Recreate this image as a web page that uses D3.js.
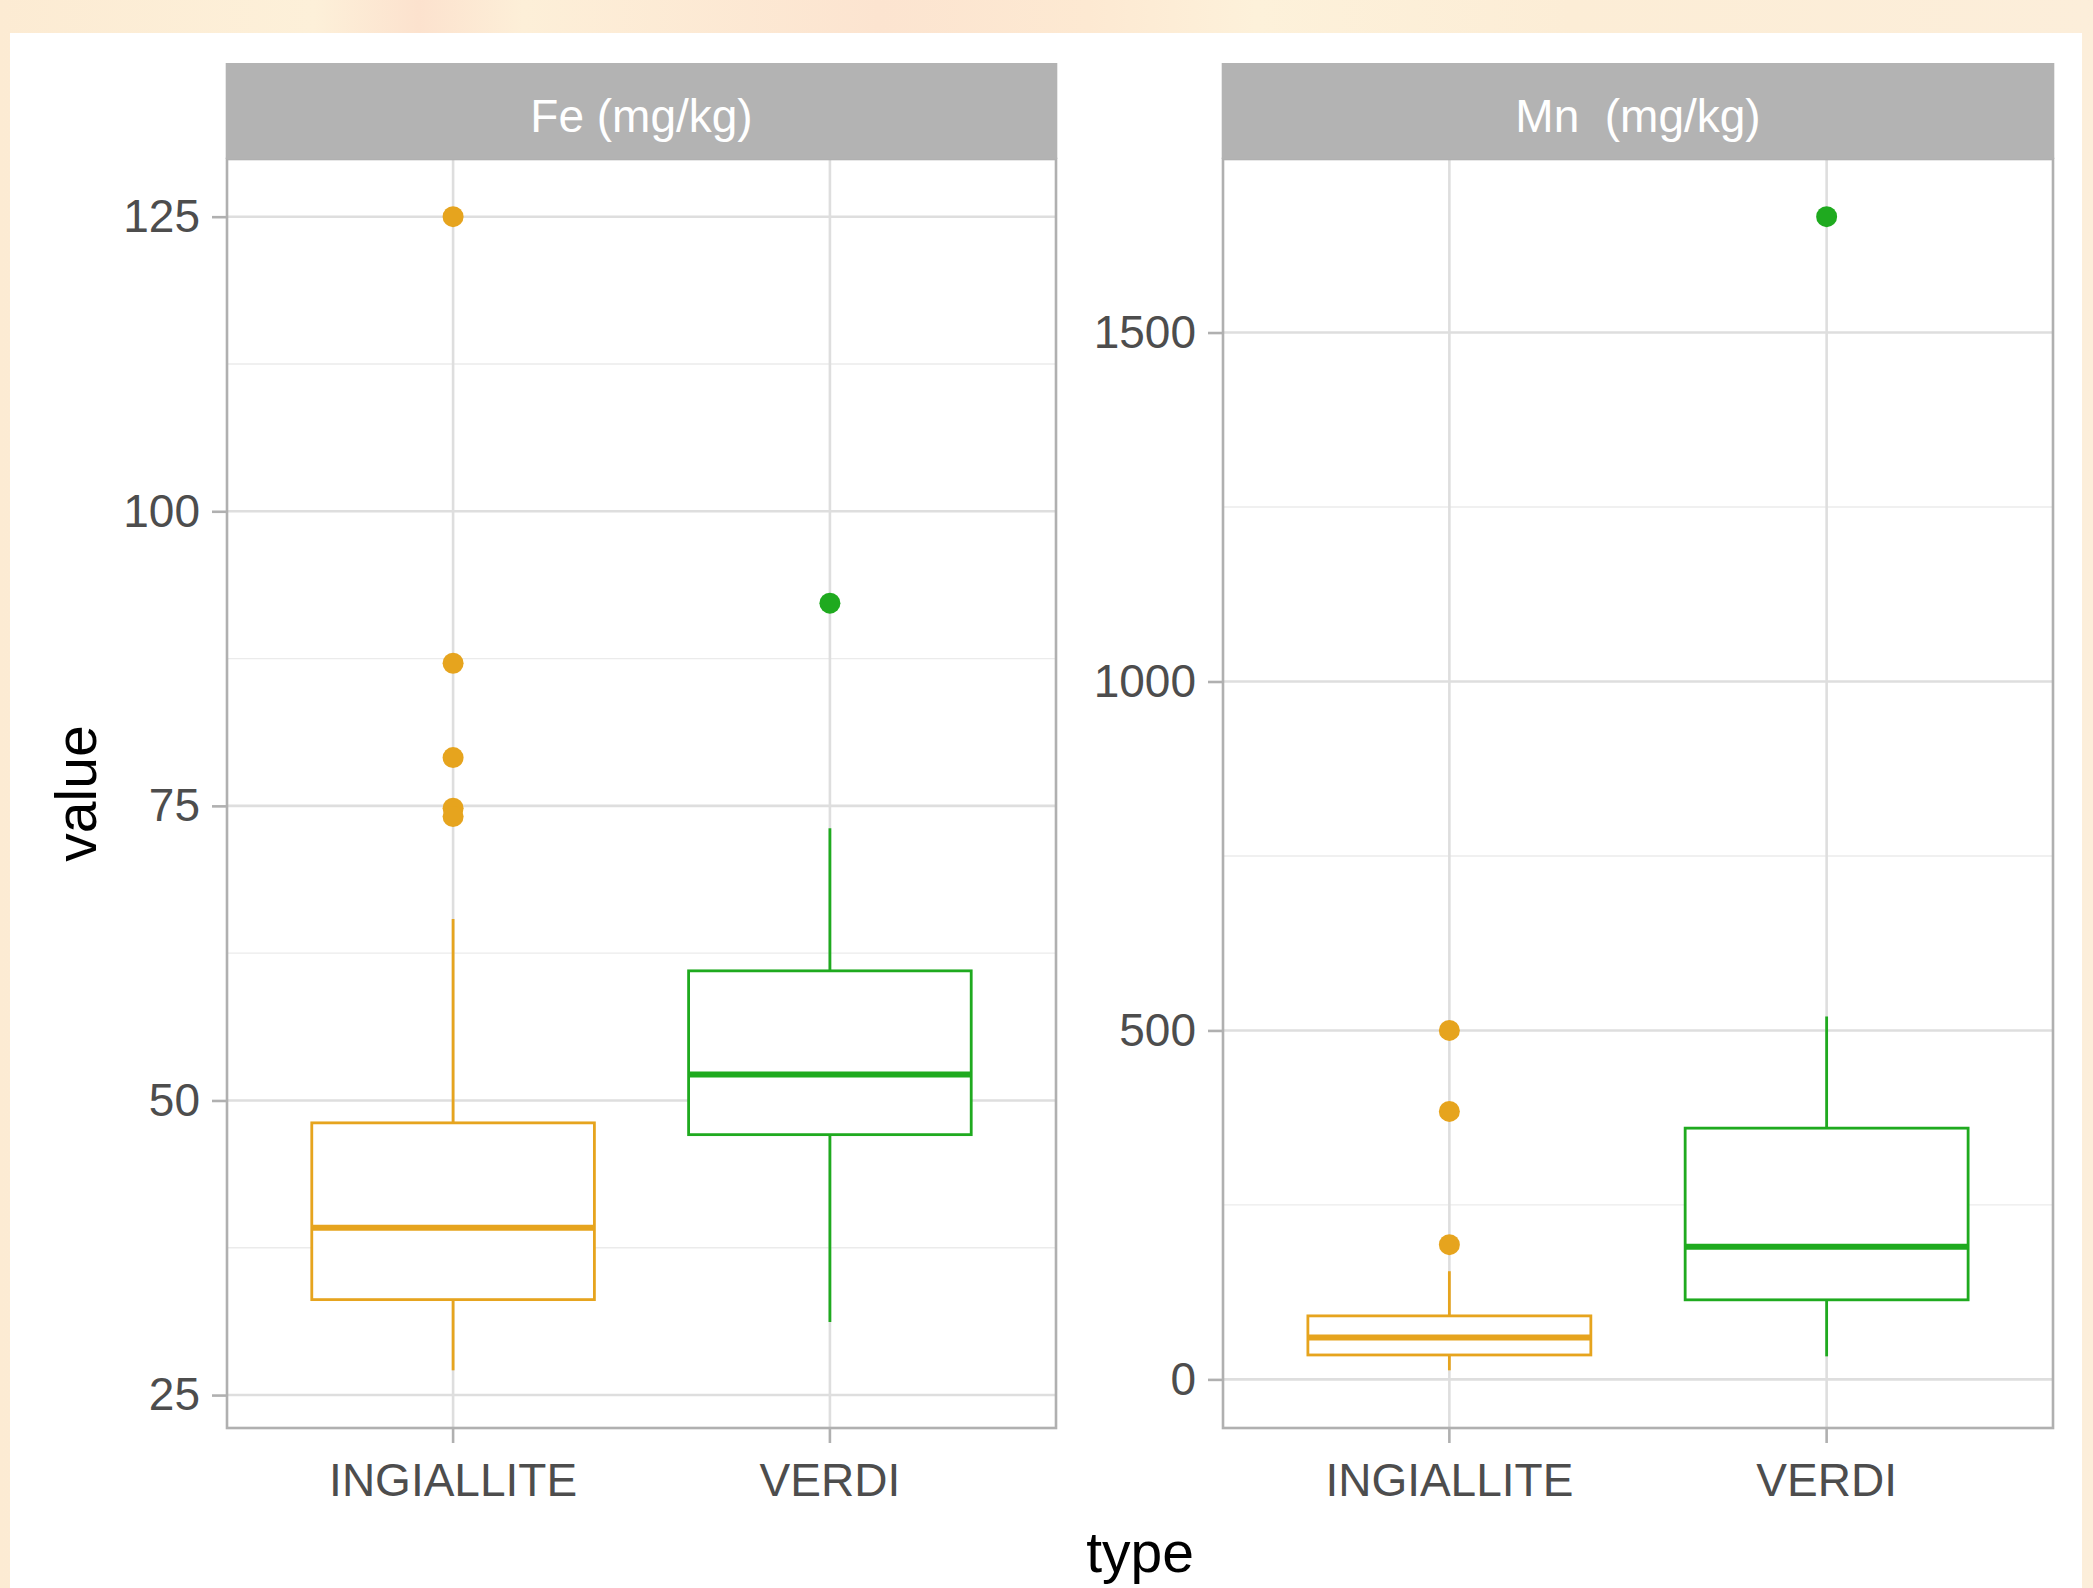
<!DOCTYPE html>
<html>
<head>
<meta charset="utf-8">
<script src="https://cdn.jsdelivr.net/npm/d3@7"></script>
<style>
  body { margin: 0; padding: 0; }
  svg { display: block; }
  text { font-family: "Liberation Sans", Arial, sans-serif; }
</style>
</head>
<body>
<div id="chart"></div>
<script>
// data
var types = ["INGIALLITE", "VERDI"];
var facets = ["Fe (mg/kg)", "Mn  (mg/kg)"];

// [lower whisker, Q1, median, Q3, upper whisker] per type
var feStats = [[27.1, 33.1, 39.2, 48.1, 65.4], [31.2, 47.1, 52.2, 61.0, 73.1]];
var feOutliers = [[125, 87.1, 79.1, 74.8, 74.1], [92.2]];
var mnStats = [[13, 35, 60, 91, 155], [33, 114, 190, 360, 520]];
var mnOutliers = [[500, 384, 193], [1666]];

var feTicks = [25, 50, 75, 100, 125];
var feMinor = [37.5, 62.5, 87.5, 112.5];
var mnTicks = [0, 500, 1000, 1500];
var mnMinor = [250, 750, 1250];

var colors = ["#E6A41E", "#1FAA1F"];

var W = 2093, H = 1588;

var svg = d3.select("#chart")
  .append("svg")
    .attr("width", W)
    .attr("height", H);

// the textured paper behind the plot, roughly
var defs = svg.append("defs");
var grad = defs.append("linearGradient").attr("id", "paper");
[["0%", "#FCEBD3"], ["15%", "#FDF0D9"], ["20%", "#FCE2CE"], ["25%", "#FDEFD8"],
 ["42%", "#FCE4D0"], ["52%", "#FDE9D2"], ["60%", "#FDF1DA"], ["75%", "#FCEDD6"],
 ["100%", "#FCEEDA"]].forEach(function(s) {
  grad.append("stop").attr("offset", s[0]).attr("stop-color", s[1]);
});
svg.append("rect").attr("width", W).attr("height", H).attr("fill", "url(#paper)");
svg.append("rect")
  .attr("x", 10).attr("y", 33)
  .attr("width", 2072).attr("height", H - 33)
  .attr("fill", "white");

var plotTop = 159, plotBottom = 1428, stripTop = 63;

var panels = [
  { name: facets[0], x0: 227, x1: 1056, stats: feStats, outliers: feOutliers, ticks: feTicks, minor: feMinor },
  { name: facets[1], x0: 1223, x1: 2053, stats: mnStats, outliers: mnOutliers, ticks: mnTicks, minor: mnMinor }
];

panels.forEach(function(p) {
  // ggplot style expansion of 5%
  var all = [];
  p.stats.forEach(function(s) { all = all.concat(s); });
  p.outliers.forEach(function(o) { all = all.concat(o); });
  var ext = d3.extent(all);
  var pad = (ext[1] - ext[0]) * 0.05;
  var y = d3.scaleLinear().domain([ext[0] - pad, ext[1] + pad]).range([plotBottom, plotTop]);

  // discrete x with 0.6 expansion each side
  var x = d3.scaleLinear().domain([0.4, 2.6]).range([p.x0, p.x1]);
  var unit = x(2) - x(1);

  var g = svg.append("g");

  // minor grid
  g.selectAll(".minor")
    .data(p.minor)
    .enter()
    .append("line")
      .attr("x1", p.x0).attr("x2", p.x1)
      .attr("y1", function(d) { return y(d); })
      .attr("y2", function(d) { return y(d); })
      .attr("stroke", "#EBEBEB")
      .attr("stroke-width", 1.4);

  // major grid
  g.selectAll(".major")
    .data(p.ticks)
    .enter()
    .append("line")
      .attr("x1", p.x0).attr("x2", p.x1)
      .attr("y1", function(d) { return y(d); })
      .attr("y2", function(d) { return y(d); })
      .attr("stroke", "#DEDEDE")
      .attr("stroke-width", 2.6);

  g.selectAll(".vgrid")
    .data(types)
    .enter()
    .append("line")
      .attr("x1", function(d, i) { return x(i + 1); })
      .attr("x2", function(d, i) { return x(i + 1); })
      .attr("y1", plotTop).attr("y2", plotBottom)
      .attr("stroke", "#DEDEDE")
      .attr("stroke-width", 2.6);

  // boxes
  types.forEach(function(t, i) {
    var s = p.stats[i];
    var cx = x(i + 1);
    var bw = unit * 0.75;
    var col = colors[i];
    g.append("line")
      .attr("x1", cx).attr("x2", cx)
      .attr("y1", y(s[3])).attr("y2", y(s[4]))
      .attr("stroke", col).attr("stroke-width", 2.8);
    g.append("line")
      .attr("x1", cx).attr("x2", cx)
      .attr("y1", y(s[1])).attr("y2", y(s[0]))
      .attr("stroke", col).attr("stroke-width", 2.8);
    g.append("rect")
      .attr("x", cx - bw / 2).attr("width", bw)
      .attr("y", y(s[3])).attr("height", y(s[1]) - y(s[3]))
      .attr("fill", "white")
      .attr("stroke", col).attr("stroke-width", 2.8);
    g.append("line")
      .attr("x1", cx - bw / 2).attr("x2", cx + bw / 2)
      .attr("y1", y(s[2])).attr("y2", y(s[2]))
      .attr("stroke", col).attr("stroke-width", 6);
    g.selectAll(".out" + i)
      .data(p.outliers[i])
      .enter()
      .append("circle")
        .attr("cx", cx)
        .attr("cy", function(d) { return y(d); })
        .attr("r", 10.5)
        .attr("fill", col);
  });

  // border
  g.append("rect")
    .attr("x", p.x0).attr("y", plotTop)
    .attr("width", p.x1 - p.x0).attr("height", plotBottom - plotTop)
    .attr("fill", "none")
    .attr("stroke", "#B0B0B0")
    .attr("stroke-width", 2.6);

  // strip
  g.append("rect")
    .attr("x", p.x0 - 1.3).attr("y", stripTop)
    .attr("width", p.x1 - p.x0 + 2.6).attr("height", plotTop - stripTop)
    .attr("fill", "#B3B3B3");
  g.append("text")
    .attr("x", (p.x0 + p.x1) / 2)
    .attr("y", (stripTop + plotTop) / 2 + 5)
    .attr("dy", "0.35em")
    .attr("text-anchor", "middle")
    .attr("fill", "white")
    .style("font-size", "46px")
    .style("white-space", "pre")
    .text(p.name);

  // y axis
  var yAxis = g.append("g")
    .attr("transform", "translate(" + p.x0 + ",0)")
    .call(d3.axisLeft(y).tickValues(p.ticks).tickFormat(d3.format("d")).tickSize(15).tickPadding(12));
  yAxis.select(".domain").remove();
  yAxis.selectAll("line").attr("stroke", "#B0B0B0").attr("stroke-width", 2.6);
  yAxis.selectAll("text")
    .attr("fill", "#4D4D4D")
    .style("font-size", "46px")
    .style("font-family", "Liberation Sans, Arial, sans-serif");

  // x axis
  var xb = d3.scaleBand().domain(types).range([x(0.5), x(2.5)]);
  var xAxis = g.append("g")
    .attr("transform", "translate(0," + plotBottom + ")")
    .call(d3.axisBottom(xb).tickSize(15).tickPadding(20));
  xAxis.select(".domain").remove();
  xAxis.selectAll("line").attr("stroke", "#B0B0B0").attr("stroke-width", 2.6);
  xAxis.selectAll("text")
    .attr("fill", "#4D4D4D")
    .style("font-size", "46px")
    .style("font-family", "Liberation Sans, Arial, sans-serif");
});

// axis titles
svg.append("text")
  .attr("transform", "translate(76," + (plotTop + plotBottom) / 2 + ") rotate(-90)")
  .attr("dy", "0.35em")
  .attr("text-anchor", "middle")
  .attr("fill", "black")
  .style("font-size", "57px")
  .text("value");

svg.append("text")
  .attr("x", (227 + 2053) / 2)
  .attr("y", 1572)
  .attr("text-anchor", "middle")
  .attr("fill", "black")
  .style("font-size", "57px")
  .text("type");
</script>
</body>
</html>
